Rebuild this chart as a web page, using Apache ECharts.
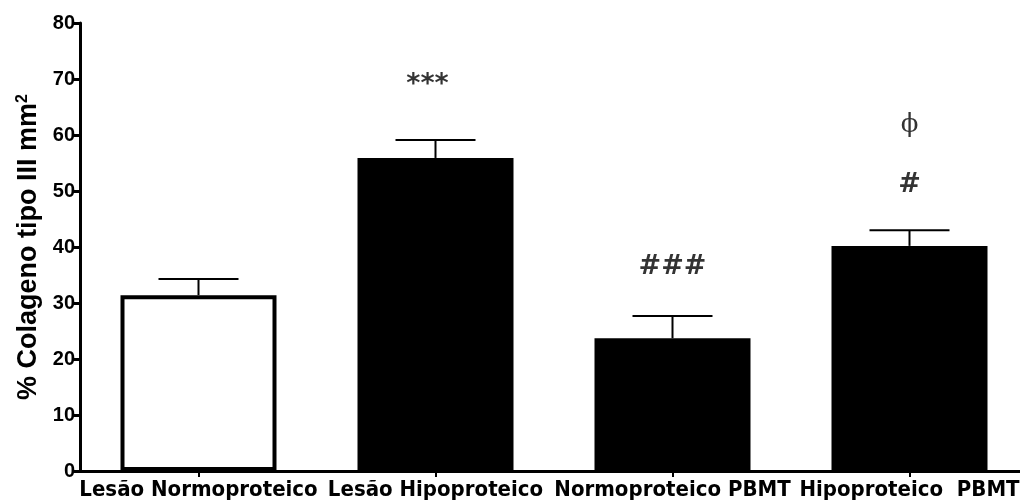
<!DOCTYPE html>
<html><head><meta charset="utf-8">
<script src="https://cdn.jsdelivr.net/npm/echarts@6/dist/echarts.min.js"></script>
<style>html,body{margin:0;padding:0;background:#fff;overflow:hidden}#c{width:1040px;height:504px}</style>
</head><body><div id="c"></div>
<script>
var categories = ['Lesão Normoproteico', 'Lesão Hipoproteico', 'Normoproteico PBMT', 'Hipoproteico  PBMT'];
var means = [31.4, 55.9, 23.7, 40.2];
var errors = [2.9, 3.2, 4.0, 2.8];
var annotTexts = ['', '***', '###', '#'];
var annotY = [0, 69.0, 36.4, 51.0];
var annot2Texts = ['', '', '', 'ϕ'];
var annot2Y = [0, 0, 0, 61.8];
var yTicks = [0, 10, 20, 30, 40, 50, 60, 70, 80];

var chart = echarts.init(document.getElementById('c'));
var barData = means.map(function (v, i) {
  return {
    value: v,
    itemStyle: i === 0 ? {color: '#fff', borderColor: '#000', borderWidth: 4} : {color: '#000', borderColor: '#000', borderWidth: 0}
  };
});
function annotData(texts, ys) {
  var out = [];
  texts.forEach(function (t, i) {
    if (t) out.push({value: [i, ys[i]], name: t, label: t === '***' ? {offset: [-8, 0]} : {}});
  });
  return out;
}
chart.setOption({
  animation: false,
  grid: {left: 80, top: 23, width: 948, height: 448, containLabel: false, outerBoundsMode: 'none'},
  xAxis: {
    type: 'category', data: categories,
    axisLine: {lineStyle: {color: '#000', width: 3}},
    axisTick: {show: true, alignWithLabel: true, length: 6, lineStyle: {color: '#000', width: 2}},
    axisLabel: {color: '#000', fontFamily: 'DejaVu Sans Condensed, Liberation Sans Narrow, Liberation Sans', fontWeight: 'bold', fontSize: 22, margin: 8, interval: 0}
  },
  yAxis: {
    type: 'value', min: 0, max: 80, interval: 10,
    name: '{a|% Colageno tipo III mm}{b|2}', nameLocation: 'middle', nameGap: 37,
    nameTextStyle: {
      color: '#000', fontFamily: 'Liberation Sans, Arial', fontWeight: 'bold', fontSize: 27,
      rich: {
        a: {color: '#000', fontFamily: 'Liberation Sans, Arial', fontWeight: 'bold', fontSize: 27},
        b: {color: '#000', fontFamily: 'Liberation Sans, Arial', fontWeight: 'bold', fontSize: 16, verticalAlign: 'top', padding: [0, 0, 12, 0]}
      }
    },
    axisLine: {show: true, lineStyle: {color: '#000', width: 3}},
    axisTick: {show: true, length: 6, lineStyle: {color: '#000', width: 3}},
    splitLine: {show: false},
    axisLabel: {color: '#000', fontFamily: 'Liberation Sans, Arial', fontWeight: 'bold', fontSize: 20, margin: 5,
      formatter: function (v) { return yTicks.indexOf(v) >= 0 ? String(v) : ''; }}
  },
  series: [
    {type: 'bar', data: barData, barWidth: 156, z: 2},
    {
      type: 'custom', z: 1,
      data: means.map(function (v, i) { return [i, v, v + errors[i]]; }),
      renderItem: function (params, api) {
        var lo = api.coord([api.value(0), api.value(1)]);
        var hi = api.coord([api.value(0), api.value(2)]);
        var hw = 40;
        var st = {stroke: '#000', lineWidth: 2};
        return {type: 'group', children: [
          {type: 'line', shape: {x1: lo[0], y1: lo[1], x2: hi[0], y2: hi[1]}, style: st},
          {type: 'line', shape: {x1: hi[0] - hw, y1: hi[1], x2: hi[0] + hw, y2: hi[1]}, style: st}
        ]};
      }
    },
    {
      type: 'scatter', symbolSize: 0, data: annotData(annotTexts, annotY),
      label: {show: true, position: 'inside', formatter: function (p) { return p.name; },
        color: '#000', fontFamily: 'DejaVu Sans', fontWeight: 'bold', fontSize: 27}
    },
    {
      type: 'scatter', symbolSize: 0, data: annotData(annot2Texts, annot2Y),
      label: {show: true, position: 'inside', formatter: function (p) { return p.name; },
        color: '#000', fontFamily: 'DejaVu Serif, Liberation Serif', fontSize: 26}
    }
  ]
});
</script></body></html>
